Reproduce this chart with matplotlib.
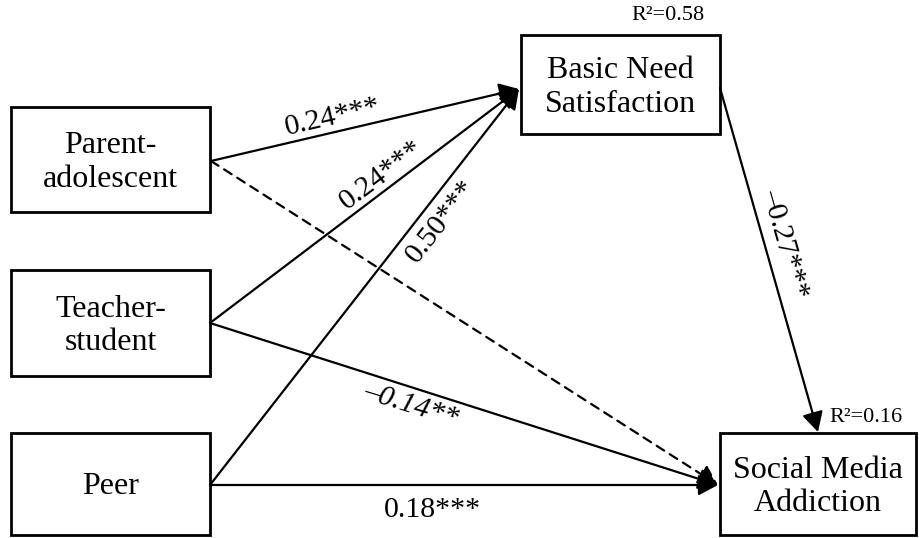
import matplotlib.pyplot as plt
from matplotlib.patches import Rectangle, FancyArrowPatch

plt.rcParams['font.family'] = ['Liberation Serif', 'DejaVu Serif']

# Boxes (pixel space: left, top, width, height) and their labels
node_names = ["parent", "teacher", "peer", "bns", "sma"]
node_labels = ["Parent-\nadolescent", "Teacher-\nstudent", "Peer",
               "Basic Need\nSatisfaction", "Social Media\nAddiction"]
node_boxes = [(11, 107, 199, 105), (11, 270, 199, 106), (11, 433, 199, 102),
              (521, 35, 199, 99), (720, 433, 196, 102)]

# Paths: (from, to, coefficient, stars); None marks the non-significant path
path_from = ["parent", "teacher", "peer", "bns", "teacher", "peer", "parent"]
path_to = ["bns", "bns", "bns", "sma", "sma", "sma", "sma"]
path_coef = [0.24, 0.24, 0.50, -0.27, -0.14, 0.18, None]
path_stars = ["***", "***", "***", "***", "**", "***", ""]

# R-squared for endogenous variables
r2_nodes = ["bns", "sma"]
r2_values = [0.58, 0.16]

fig = plt.figure(figsize=(9.19, 5.38), dpi=100)
ax = fig.add_axes([0, 0, 1, 1])
ax.set_xlim(0, 919)
ax.set_ylim(538, 0)
ax.axis("off")

boxes = dict(zip(node_names, node_boxes))
for name, label in zip(node_names, node_labels):
    x, y, w, h = boxes[name]
    ax.add_patch(Rectangle((x, y), w, h, fill=False, lw=2.0, ec="black"))
    ax.text(x + w / 2, y + h / 2 + 3, label, ha="center", va="center",
            fontsize=23, linespacing=1.22)

# anchor points on box edges
starts = {"parent": (211, 161), "teacher": (210, 323), "peer": (210, 485),
          "bns": (720, 88)}
ends = {"bns": (519, 89), "sma": (718, 485)}
ends_bns_sma = (818, 432)

# label placement for each path (center x, y, rotation, italic)
label_pos = [(333, 117, 13, False), (381, 175, 37, False), (441, 221, 52, False),
             (784, 244, -74, False), (411, 406, -17, True), (432, 510, 0, False),
             None]

for src, dst, coef, stars, lp in zip(path_from, path_to, path_coef, path_stars, label_pos):
    p0 = starts[src]
    p1 = ends_bns_sma if src == "bns" else ends[dst]
    dashed = coef is None
    arr = FancyArrowPatch(p0, p1, arrowstyle="-|>,head_length=0.6,head_width=0.32",
                          mutation_scale=20, shrinkA=0, shrinkB=0, lw=1.6,
                          color="black",
                          linestyle=(0, (4, 3)) if dashed else "-")
    ax.add_patch(arr)
    if lp is not None:
        txt = ("\u2013" if coef < 0 else "") + f"{abs(coef):.2f}" + stars
        ax.text(lp[0], lp[1], txt, ha="center", va="center", rotation=lp[2],
                rotation_mode="anchor", fontsize=21.5,
                style="italic" if lp[3] else "normal")

r2_pos = {"bns": (668, 16), "sma": (866, 418)}
for name, val in zip(r2_nodes, r2_values):
    ax.text(*r2_pos[name], f"R\u00b2={val:.2f}", ha="center", va="center",
            fontsize=16)

fig.savefig("out.png", dpi=100)
